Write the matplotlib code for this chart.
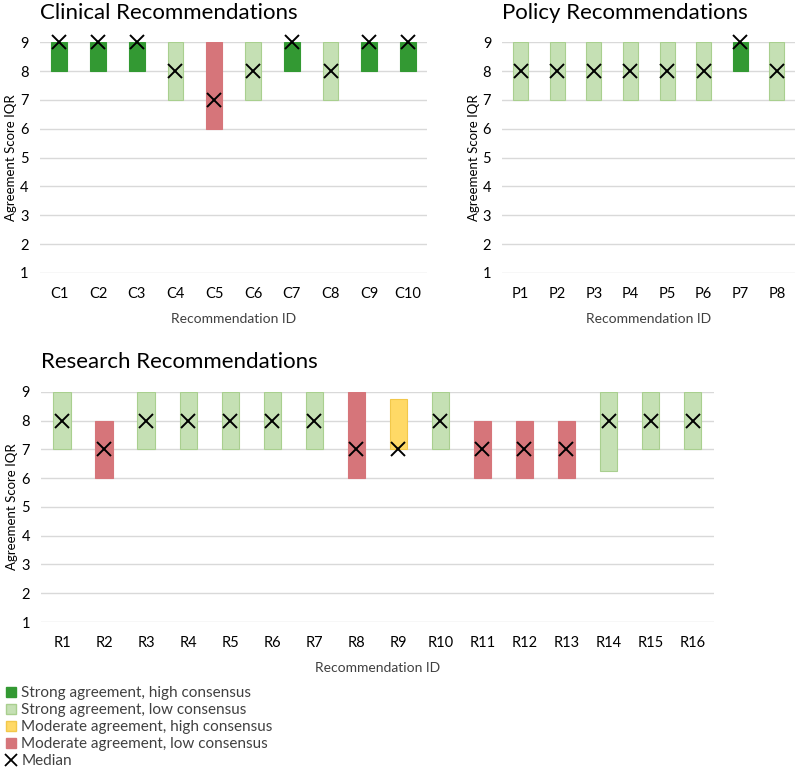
import matplotlib
matplotlib.use("Agg")
import matplotlib.pyplot as plt
from matplotlib.lines import Line2D

plt.rcParams['font.family'] = ['Lato', 'DejaVu Sans']

# Data
clinical_ids = ["C1", "C2", "C3", "C4", "C5", "C6", "C7", "C8", "C9", "C10"]
clinical_q1 = [8, 8, 8, 7, 6, 7, 8, 7, 8, 8]
clinical_q3 = [9, 9, 9, 9, 9, 9, 9, 9, 9, 9]
clinical_median = [9, 9, 9, 8, 7, 8, 9, 8, 9, 9]
clinical_cat = ["SH", "SH", "SH", "SL", "ML", "SL", "SH", "SL", "SH", "SH"]

policy_ids = ["P1", "P2", "P3", "P4", "P5", "P6", "P7", "P8"]
policy_q1 = [7, 7, 7, 7, 7, 7, 8, 7]
policy_q3 = [9, 9, 9, 9, 9, 9, 9, 9]
policy_median = [8, 8, 8, 8, 8, 8, 9, 8]
policy_cat = ["SL", "SL", "SL", "SL", "SL", "SL", "SH", "SL"]

research_ids = ["R%d" % i for i in range(1, 17)]
research_q1 = [7, 6, 7, 7, 7, 7, 7, 6, 7, 7, 6, 6, 6, 6.25, 7, 7]
research_q3 = [9, 8, 9, 9, 9, 9, 9, 9, 8.75, 9, 8, 8, 8, 9, 9, 9]
research_median = [8, 7, 8, 8, 8, 8, 8, 7, 7, 8, 7, 7, 7, 8, 8, 8]
research_cat = ["SL", "ML", "SL", "SL", "SL", "SL", "SL", "ML", "MH", "SL",
                "ML", "ML", "ML", "SL", "SL", "SL"]

# Styles
face = {"SH": "#339933", "SL": "#C5E0B4", "MH": "#FFD966", "ML": "#D6757A"}
edge = {"SH": "#339933", "SL": "#A9CF8F", "MH": "#F2C84B", "ML": "#D6757A"}
labels = {"SH": "Strong agreement, high consensus",
          "SL": "Strong agreement, low consensus",
          "MH": "Moderate agreement, high consensus",
          "ML": "Moderate agreement, low consensus"}
text_col = "#404040"


def plot_panel(ax, ids, q1, q3, med, cat, title):
    x = range(len(ids))
    heights = [b - a for a, b in zip(q1, q3)]
    ax.bar(x, heights, bottom=q1, width=0.41,
           color=[face[c] for c in cat], edgecolor=[edge[c] for c in cat],
           linewidth=0.8, zorder=2)
    ax.plot(x, med, linestyle="none", marker="x", markersize=10,
            markeredgewidth=1.4, color="black", zorder=3, clip_on=False)
    ax.set_xlim(-0.5, len(ids) - 0.5)
    ax.set_ylim(1, 9)
    ax.set_yticks(range(1, 10))
    ax.set_xticks(list(x))
    ax.set_xticklabels(ids)
    ax.grid(axis="y", color="#D9D9D9", linewidth=1, zorder=0)
    for s in ax.spines.values():
        s.set_visible(False)
    ax.tick_params(length=0, labelsize=10.5, colors="black", pad=10)
    ax.tick_params(axis="y", pad=8)
    ax.set_ylabel("Agreement Score IQR", fontsize=9.5, color="black", labelpad=2)
    ax.set_xlabel("Recommendation ID", fontsize=10, color=text_col, labelpad=9)
    ax.set_title(title, fontsize=16, loc="left", x=0.0, y=1.0, pad=17,
                 color="black")


fig = plt.figure(figsize=(7.96, 7.72), dpi=100)
ax1 = fig.add_axes([0.050, 0.6464, 0.487, 0.299])
ax2 = fig.add_axes([0.631, 0.6464, 0.368, 0.299])
ax3 = fig.add_axes([0.0515, 0.1943, 0.845, 0.298])

plot_panel(ax1, clinical_ids, clinical_q1, clinical_q3, clinical_median,
           clinical_cat, "Clinical Recommendations")
plot_panel(ax2, policy_ids, policy_q1, policy_q3, policy_median,
           policy_cat, "Policy Recommendations")
ax2.title.set_position((0.02, 1.0))
plot_panel(ax3, research_ids, research_q1, research_q3, research_median,
           research_cat, "Research Recommendations")

handles = [Line2D([], [], linestyle="none", marker="s", markersize=7,
                  markerfacecolor=face[k], markeredgecolor=edge[k])
           for k in ["SH", "SL", "MH", "ML"]]
handles.append(Line2D([], [], linestyle="none", marker="x", markersize=9,
                      markeredgewidth=1.3, color="black"))
leg = fig.legend(handles, [labels[k] for k in ["SH", "SL", "MH", "ML"]] + ["Median"],
                 loc="upper left", bbox_to_anchor=(-0.004, 0.121), frameon=False,
                 fontsize=11, handlelength=0.8, handletextpad=0.3,
                 labelspacing=0.2, borderpad=0)
for t in leg.get_texts():
    t.set_color(text_col)

fig.savefig("out.png", dpi=100)
